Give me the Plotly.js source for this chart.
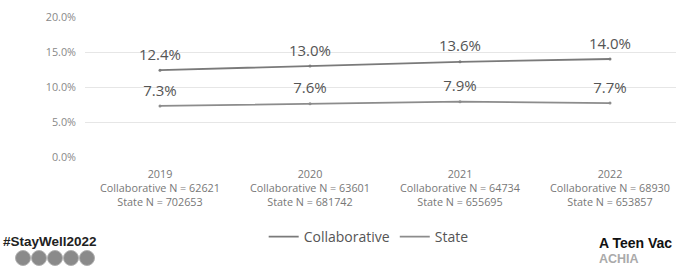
<!DOCTYPE html>
<html>
<head>
<meta charset="utf-8">
<script src="https://cdn.plot.ly/plotly-3.0.1.min.js"></script>
<style>html,body{margin:0;padding:0;background:#fff;}#chart{width:676px;height:272px;}</style>
</head>
<body>
<div id="chart"></div>
<script>
var years = ["2019", "2020", "2021", "2022"];
var collabN = [62621, 63601, 64734, 68930];
var stateN = [702653, 681742, 655695, 653857];
var collaborative = [0.124, 0.130, 0.136, 0.140];
var state = [0.073, 0.076, 0.079, 0.077];
var yTicks = [0, 0.05, 0.10, 0.15, 0.20];

var cats = years.map(function (y, i) {
  return y + "<br>Collaborative N = " + collabN[i] + "<br>State N = " + stateN[i];
});
function pct(v) { return (v * 100).toFixed(1) + "%"; }

var FONT = "Open Sans, Noto Sans, sans-serif";
function series(name, vals, color) {
  return [
    {
      name: name, x: cats, y: vals, type: "scatter",
      mode: "lines+markers+text", text: vals.map(pct), textposition: "top center",
      textfont: {size: 15, color: "#555", family: FONT},
      line: {color: color, width: 1.8}, marker: {size: 9, color: "rgba(0,0,0,0)"},
      hoverinfo: "skip"
    }
  ];
}
var traces = series("Collaborative", collaborative, "#7a7a7a")
  .concat(series("State", state, "#8c8c8c"));
// small point dots
traces.push({x: cats, y: collaborative, type: "scatter", mode: "markers", showlegend: false,
  marker: {size: 3, color: "#7a7a7a"}, hoverinfo: "skip"});
traces.push({x: cats, y: state, type: "scatter", mode: "markers", showlegend: false,
  marker: {size: 3, color: "#8c8c8c"}, hoverinfo: "skip"});

function px(x) { return (x - 85) / 591; }
function py(y) { return (157 - y) / 140; }
var circles = [23, 39, 55, 71, 87].map(function (cx) {
  return {type: "circle", xref: "paper", yref: "paper",
    x0: px(cx - 7.5), x1: px(cx + 7.5), y0: py(265.5), y1: py(250.5),
    fillcolor: "#8a8a8a", line: {color: "#b0b0b0", width: 1}};
});

var layout = {
  width: 676, height: 272,
  margin: {l: 85, r: 0, t: 17, b: 115},
  paper_bgcolor: "#fff", plot_bgcolor: "#fff",
  showlegend: true,
  legend: {orientation: "h", x: 0.48, xanchor: "center", y: py(237), yanchor: "middle",
    font: {size: 14, color: "#555", family: FONT}, itemwidth: 30, bgcolor: "rgba(0,0,0,0)"},
  xaxis: {type: "category", range: [-0.5, 3.44], showgrid: false, zeroline: false,
    showline: false, ticks: "", ticklabelstandoff: 9,
    tickfont: {size: 10.8, color: "#777", family: FONT}},
  yaxis: {range: [0, 0.2], tickvals: yTicks, tickformat: ".1%", showgrid: true,
    gridcolor: "#e6e6e6", gridwidth: 1, zeroline: false, showline: false, ticks: "",
    ticklabelstandoff: 8, tickfont: {size: 10.8, color: "#888", family: FONT}},
  shapes: circles,
  annotations: [
    {text: "<b>#StayWell2022</b>", xref: "paper", yref: "paper", x: px(1), y: py(241),
      xanchor: "left", yanchor: "middle", showarrow: false,
      font: {size: 13.5, color: "#222", family: "Liberation Sans Narrow, Liberation Sans, sans-serif"}},
    {text: "<b>A Teen Vac</b>", xref: "paper", yref: "paper", x: px(597), y: py(243),
      xanchor: "left", yanchor: "middle", showarrow: false,
      font: {size: 14, color: "#111", family: "Liberation Sans, sans-serif"}},
    {text: "<b>ACHIA</b>", xref: "paper", yref: "paper", x: px(597), y: py(259),
      xanchor: "left", yanchor: "middle", showarrow: false,
      font: {size: 12.5, color: "#aaa", family: "Liberation Sans, sans-serif"}}
  ]
};

Plotly.newPlot("chart", traces, layout, {staticPlot: true, displayModeBar: false});
</script>
</body>
</html>
